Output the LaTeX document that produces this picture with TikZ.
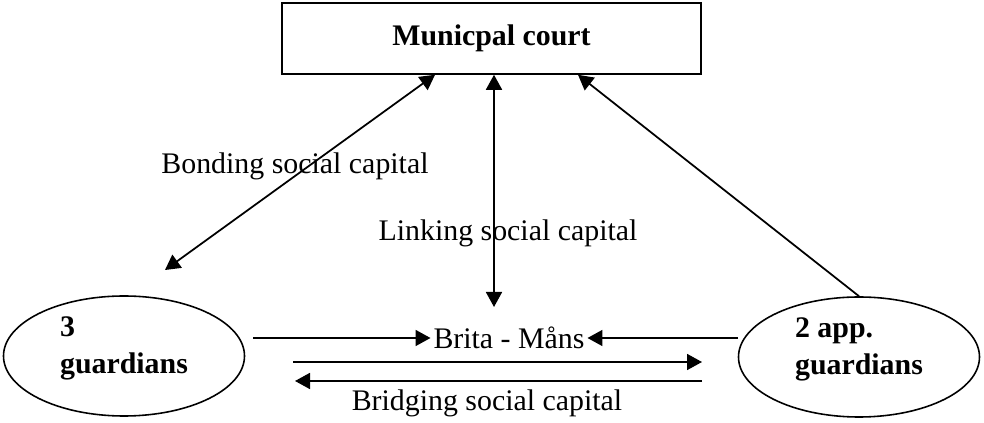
\documentclass[tikz,border=0pt]{standalone}
\usepackage{fontspec}
\setmainfont{Liberation Serif}
\usetikzlibrary{arrows.meta, positioning, shapes.geometric}
\tikzset{
  courtbox/.style={draw, line width=0.9pt, minimum width=8.38cm,
                   minimum height=1.42cm, font=\fontsize{17}{21}\selectfont\bfseries},
  guardoval/.style={draw, ellipse, line width=0.9pt, minimum width=4.82cm,
                    minimum height=2.4cm, align=left, inner ysep=0pt,
                    text depth=0.43cm, font=\fontsize{17}{21}\selectfont\bfseries},
  plaintext/.style={font=\fontsize{17}{21}\selectfont},
  onearrow/.style={-{Triangle[length=3mm,width=3.2mm]}, line width=1pt},
  bothway/.style={{Triangle[length=3mm,width=3.2mm]}-{Triangle[length=3mm,width=3.2mm]},
                  line width=1pt}
}

\begin{document}
\begin{tikzpicture}
    \useasboundingbox (0,0) rectangle (19.68,8.46);
    \node[courtbox] (court) at (9.83,7.69) {Municpal court};
    \node[guardoval] (g3) at (2.48,1.34) {3\\guardians};
    \node[guardoval] (g2) at (17.18,1.32) {2 app.\\guardians};
    \node[plaintext, inner sep=1.5pt] (brita) at (10.18,1.70) {Brita - Måns};
    \node[plaintext] (bonding) at (5.9,5.14) {Bonding social capital};
    \node[plaintext] (linking) at (10.16,3.8) {Linking social capital};
    \node[plaintext] (bridging) at (9.74,0.40) {Bridging social capital};

    \coordinate (bondlow) at (3.3,3.06);
    \coordinate (bondtop) at (8.7,0 |- court.south);
    \coordinate (linklow) at (9.88,2.32);
    \coordinate (apptop) at (11.56,0 |- court.south);
    \coordinate (g3out) at (5.06,1.70);
    \coordinate (g2out) at (14.76,1.70);
    \coordinate (topL) at (5.86,1.22);
    \coordinate (topR) at (14.04,1.22);
    \coordinate (lowL) at (5.9,0.84);
    \coordinate (lowR) at (14.04,0.84);

    \draw[bothway] (bondlow) -- (bondtop);
    \draw[bothway] (linklow) -- (linklow |- court.south);
    \draw[onearrow] (g2.north) -- (apptop);
    \draw[onearrow] (g3out) -- (brita.west);
    \draw[onearrow] (g2out) -- (brita.east);
    \draw[onearrow] (topL) -- (topR);
    \draw[onearrow] (lowR) -- (lowL);
\end{tikzpicture}
\end{document}
